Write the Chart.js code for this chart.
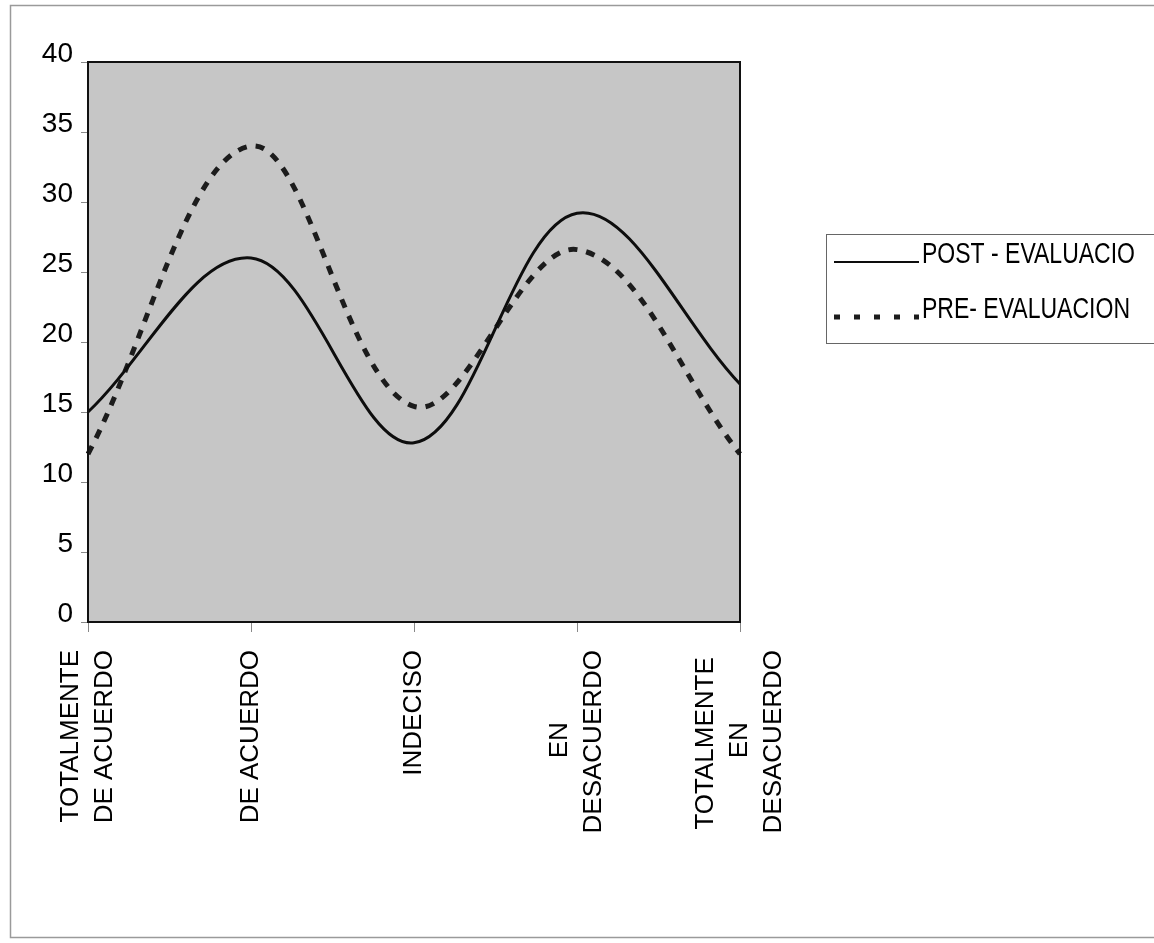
<!DOCTYPE html>
<html>
<head>
<meta charset="utf-8">
<script src="https://cdn.jsdelivr.net/npm/chart.js@4.4.1/dist/chart.umd.min.js"></script>
<style>
  html, body { margin: 0; padding: 0; background: #fff; }
  #wrap { width: 1154px; height: 943px; }
</style>
</head>
<body>
<div id="wrap"><canvas id="lineChart" width="1154" height="943"></canvas></div>
<script>
const categories = [
    ['TOTALMENTE', 'DE ACUERDO'],
    ['DE ACUERDO'],
    ['INDECISO'],
    ['EN', 'DESACUERDO'],
    ['TOTALMENTE', 'EN', 'DESACUERDO']
];
const postValues = [15, 26, 12.8, 29.2, 17];
const preValues = [12, 34, 15.4, 26.6, 12];
const yTicks = [0, 5, 10, 15, 20, 25, 30, 35, 40];
const seriesNames = ['POST - EVALUACIO', 'PRE- EVALUACION'];

const narrow = "'Liberation Sans Narrow', 'Liberation Sans', Arial, sans-serif";
const labelFont = "'Liberation Sans', Arial, sans-serif";
const HALF_LINE = 17;

const measureCtx = document.createElement('canvas').getContext('2d');
measureCtx.font = '26px ' + labelFont;

// centre each line inside its block (trailing spaces, the text is right aligned)
// and put the lines on half-line slots so the block is centred on its tick
function spreadLines(lines) {
    const widths = lines.map(t => measureCtx.measureText(t).width);
    const maxW = Math.max(...widths);
    const spaceW = measureCtx.measureText('\u00a0').width;
    const n = lines.length;
    const out = [];
    lines.forEach((txt, i) => {
        const pad = Math.round((maxW - widths[i]) / 2 / spaceW);
        out[2 * i + 3 - n] = txt + '\u00a0'.repeat(pad);
    });
    for (let k = 0; k < out.length; k++) if (out[k] === undefined) out[k] = '';
    return out;
}

const pageDecor = {
    id: 'pageDecor',
    beforeDraw(chart) {
        const { ctx, chartArea: a } = chart;
        ctx.save();
        ctx.fillStyle = '#c6c6c6';
        ctx.fillRect(a.left, a.top, a.right - a.left, a.bottom - a.top);
        ctx.restore();
    },
    afterDraw(chart) {
        const { ctx, chartArea: a } = chart;
        ctx.save();
        // plot frame
        ctx.strokeStyle = '#111';
        ctx.lineWidth = 2;
        ctx.strokeRect(a.left, a.top, a.right - a.left, a.bottom - a.top);
        // outer chart border
        ctx.strokeStyle = '#9a9a9a';
        ctx.lineWidth = 1.5;
        ctx.strokeRect(10.5, 5.5, 1160, 932);
        // legend box
        ctx.strokeStyle = '#666';
        ctx.lineWidth = 1;
        ctx.strokeRect(826.5, 234.5, 340, 109);
        const ds = chart.data.datasets;
        const rows = [262, 317];
        ds.forEach((d, i) => {
            ctx.beginPath();
            ctx.strokeStyle = d.borderColor;
            ctx.lineWidth = i === 0 ? 2 : 5;
            ctx.setLineDash(i === 0 ? [] : [6, 14]);
            ctx.moveTo(834, rows[i]);
            ctx.lineTo(919, rows[i]);
            ctx.stroke();
            ctx.setLineDash([]);
            ctx.fillStyle = '#000';
            ctx.font = '29px ' + narrow;
            ctx.textBaseline = 'middle';
            ctx.textAlign = 'left';
            ctx.fillText(d.label, 922, rows[i] - 7, i === 0 ? 213 : 208);
        });
        ctx.restore();
    }
};

const data1 = {
    labels: categories,
    datasets: [{
        label: seriesNames[0],
        data: postValues,
        borderColor: '#0d0d0d',
        borderWidth: 3,
        pointRadius: 0,
        tension: 0.36,
        fill: false
    }, {
        label: seriesNames[1],
        data: preValues,
        borderColor: '#1c1c1c',
        borderWidth: 5,
        borderDash: [9, 9],
        pointRadius: 0,
        tension: 0.36,
        fill: false
    }]
};

const config1 = {
    type: 'line',
    data: data1,
    options: {
        responsive: false,
        animation: false,
        layout: {
            padding: { top: 62, right: 414, left: 0, bottom: 0 }
        },
        scales: {
            x: {
                offset: false,
                grid: {
                    drawOnChartArea: false,
                    drawTicks: true,
                    tickLength: 10,
                    color: '#888'
                },
                border: { display: false },
                ticks: {
                    autoSkip: false,
                    minRotation: 90,
                    maxRotation: 90,
                    padding: 18,
                    labelOffset: -2 * HALF_LINE,
                    color: '#000',
                    font: { family: labelFont, size: 26, lineHeight: HALF_LINE + 'px' },
                    callback: function (value, index) {
                        return spreadLines(categories[index]);
                    }
                },
                afterFit: (scale) => { scale.height = 321; }
            },
            y: {
                min: 0,
                max: 40,
                grid: {
                    drawOnChartArea: false,
                    drawTicks: true,
                    tickLength: 7,
                    color: '#888'
                },
                border: { display: false },
                ticks: {
                    padding: 8,
                    labelOffset: -8,
                    color: '#000',
                    font: { family: narrow, size: 28 }
                },
                afterBuildTicks: (scale) => { scale.ticks = yTicks.map(v => ({ value: v })); },
                afterFit: (scale) => { scale.width = 88; }
            }
        },
        plugins: {
            legend: { display: false },
            tooltip: { enabled: false }
        }
    },
    plugins: [pageDecor]
};

const ctx1 = document.getElementById('lineChart').getContext('2d');
const chart1 = new Chart(ctx1, config1);
</script>
</body>
</html>
